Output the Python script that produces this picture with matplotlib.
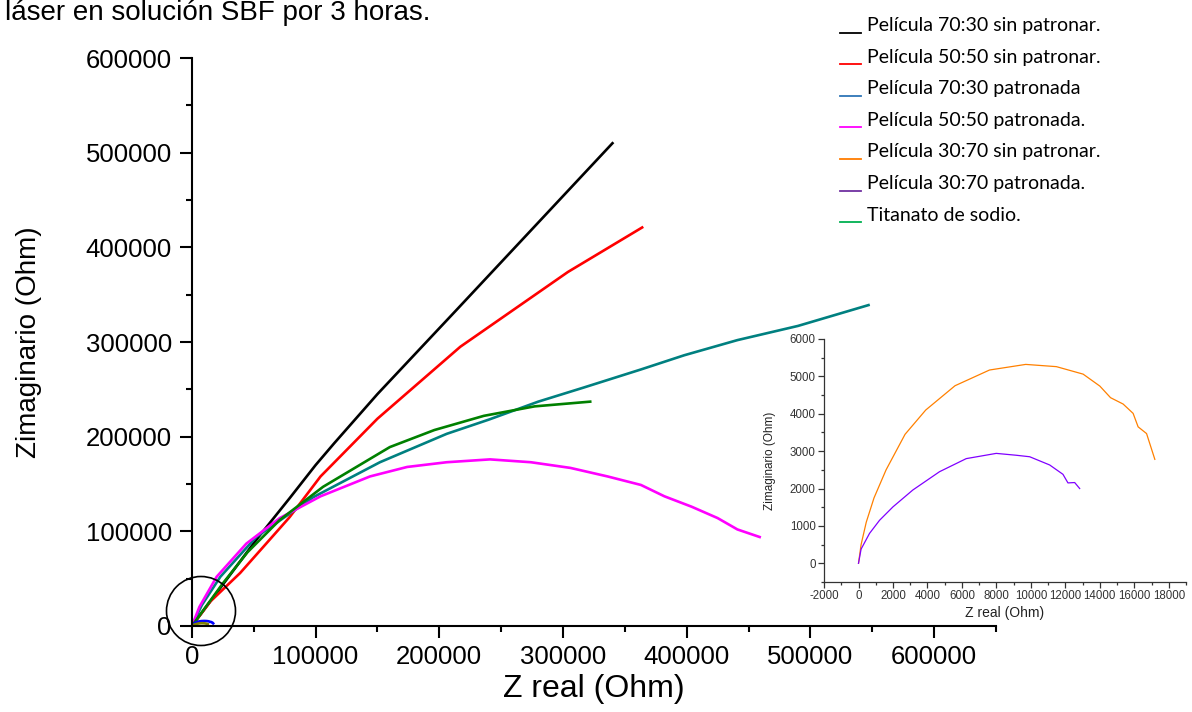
import numpy as np
import matplotlib
matplotlib.use("Agg")
import matplotlib.pyplot as plt
from matplotlib.patches import Ellipse
from matplotlib.lines import Line2D
from matplotlib.ticker import MultipleLocator

plt.rcParams["font.family"] = ["Liberation Sans", "DejaVu Sans"]
plt.rcParams["axes.unicode_minus"] = False

# Nyquist data (Ohm)
x_7030_sin = [0, 52000, 79000, 100000, 115000, 150000, 214000, 277000, 340000]
y_7030_sin = [0, 91000, 135000, 170000, 193000, 245000, 334000, 422000, 510000]

x_5050_sin = [0, 15000, 39000, 58000, 79000, 104000, 150000, 217000, 304000, 364000]
y_5050_sin = [0, 26000, 56000, 84000, 115000, 158000, 219000, 295000, 374000, 421000]

x_7030_pat = [0, 8000, 23000, 52000, 98000, 152000, 206000, 240000, 280000, 317000,
              363000, 398000, 441000, 490000, 547000]
y_7030_pat = [0, 22000, 52000, 94000, 136000, 173000, 203000, 218000, 237000, 252000,
              271000, 286000, 302000, 317000, 339000]

x_5050_pat = [0, 6000, 20000, 44000, 71000, 104000, 144000, 174000, 206000, 241000,
              274000, 306000, 336000, 363000, 382000, 404000, 425000, 441000, 459000]
y_5050_pat = [0, 20000, 52000, 87000, 114000, 137000, 158000, 168000, 173000, 176000,
              173000, 167000, 158000, 149000, 137000, 126000, 114000, 102000, 94000]

x_titanato = [0, 25000, 45000, 71000, 106000, 160000, 196000, 236000, 277000, 322000]
y_titanato = [0, 45000, 78000, 112000, 147000, 189000, 207000, 222000, 232000, 237000]

x_3070_sin = [0, 150, 450, 900, 1600, 2700, 3900, 5600, 7600, 9700, 11480, 13030, 14000,
              14620, 15350, 15930, 16220, 16710, 17190]
y_3070_sin = [0, 500, 1100, 1750, 2500, 3450, 4100, 4750, 5170, 5320, 5260, 5060, 4740,
              4430, 4260, 4010, 3650, 3470, 2780]

x_3070_pat = [0, 150, 640, 1220, 2000, 3150, 4700, 6250, 7990, 9150, 9930, 11090, 11860,
              12150, 12540, 12830]
y_3070_pat = [0, 380, 800, 1150, 1510, 1960, 2450, 2800, 2940, 2890, 2850, 2630, 2380,
              2150, 2160, 2000]

legend_labels = ["Película 70:30 sin patronar.", "Película 50:50 sin patronar.",
                 "Película 70:30 patronada", "Película 50:50 patronada.",
                 "Película 30:70 sin patronar.", "Película 30:70 patronada.",
                 "Titanato de sodio."]
legend_colors = ["#000000", "#ff0000", "#2e75b6", "#ff00ff", "#ff7c00", "#7030a0", "#00b050"]

fig = plt.figure(figsize=(11.92, 7.12), dpi=100)

# main axes
ax = fig.add_axes([0.161, 0.1208, 0.6745, 0.7977])
lw = 1.9
ax.plot(x_7030_sin, y_7030_sin, color="black", lw=lw)
ax.plot(x_5050_sin, y_5050_sin, color="#ff0000", lw=lw)
ax.plot(x_7030_pat, y_7030_pat, color="#008080", lw=lw)
ax.plot(x_5050_pat, y_5050_pat, color="#ff00ff", lw=lw)
ax.plot(x_titanato, y_titanato, color="#008000", lw=lw)
ax.plot(x_3070_sin, y_3070_sin, color="#0000ff", lw=lw)
ax.plot(x_3070_pat, y_3070_pat, color="#808000", lw=lw)

ax.set_xlim(0, 650000)
ax.set_ylim(0, 600000)
ax.spines["top"].set_visible(False)
ax.spines["right"].set_visible(False)
for s in ["left", "bottom"]:
    ax.spines[s].set_linewidth(1.5)
ax.xaxis.set_minor_locator(MultipleLocator(50000))
ax.yaxis.set_major_locator(MultipleLocator(100000))
ax.yaxis.set_minor_locator(MultipleLocator(50000))
ax.set_xticks(np.arange(0, 600001, 100000))
ax.tick_params(which="major", length=8.5, width=1.5, labelsize=18.5, pad=5)
ax.tick_params(which="minor", length=4.5, width=1.5)
ax.tick_params(axis="y", pad=6)
ax.set_xlabel("Z real (Ohm)", fontsize=23, labelpad=4)
ax.set_ylabel("Zimaginario (Ohm)", fontsize=20, labelpad=31)
ax.patch.set_alpha(0)

# circle marking the zoomed region
circ = Ellipse((201 / 1192, 1 - 611 / 712), 69 / 1192, 69 / 712, transform=fig.transFigure,
               fill=False, edgecolor="black", lw=1.2, clip_on=False)
fig.patches.append(circ)

# inset
ins = fig.add_axes([0.6913, 0.1826, 0.3037, 0.3413])
ins.patch.set_alpha(0)
ins.plot(x_3070_sin, y_3070_sin, color="#ff8000", lw=0.9)
ins.plot(x_3070_pat, y_3070_pat, color="#8000ff", lw=0.9)
ins.set_xlim(-2000, 19000)
ins.set_ylim(-500, 6000)
ins.spines["top"].set_visible(False)
ins.spines["right"].set_visible(False)
for s in ["left", "bottom"]:
    ins.spines[s].set_linewidth(0.9)
    ins.spines[s].set_color("#333333")
ins.set_xticks(np.arange(-2000, 18001, 2000))
ins.xaxis.set_minor_locator(MultipleLocator(1000))
ins.set_yticks(np.arange(0, 6001, 1000))
ins.yaxis.set_minor_locator(MultipleLocator(500))
ins.tick_params(which="major", length=4, width=0.9, labelsize=8.3, colors="#333333", pad=2)
ins.tick_params(which="minor", length=2.5, width=0.9, colors="#333333")
ins.set_xlabel("Z real (Ohm)", fontsize=10, color="#222222", labelpad=3)
ins.set_ylabel("Zimaginario (Ohm)", fontsize=8.5, color="#222222", labelpad=10)

# legend: short coloured strokes + text, as in the original
for i, (lab, c) in enumerate(zip(legend_labels, legend_colors)):
    yb = 1 - (31 + i * 31.6) / 712
    fig.add_artist(Line2D([840 / 1192, 861 / 1192], [yb - 1.5 / 712, yb - 1.5 / 712],
                          transform=fig.transFigure, color=c, lw=1.3))
    fig.text(867 / 1192, yb, lab, color="black", fontsize=14, family=["Lato", "DejaVu Sans"],
             va="baseline")

# cut-off caption at the top
fig.text(5 / 1192, 1 - 20 / 712, "láser en solución SBF por 3 horas.", fontsize=20,
         va="baseline", ha="left")

fig.savefig("out.png", dpi=100)
